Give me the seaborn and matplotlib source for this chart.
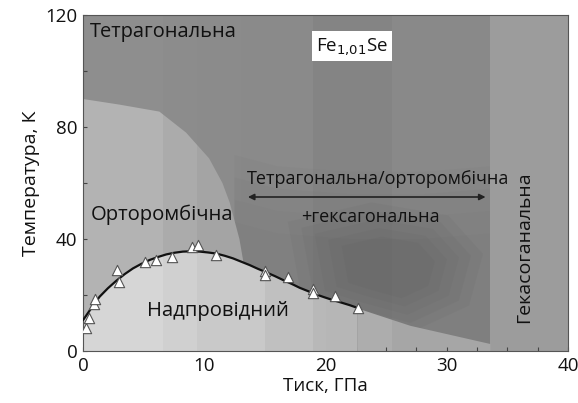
import numpy as np
import pandas as pd
import matplotlib
matplotlib.use("Agg")
import matplotlib.pyplot as plt
from matplotlib.patches import Rectangle, Polygon
import seaborn as sns

# measured Tc points (pressure GPa, temperature K)
p_data = [0.22, 0.5, 0.88, 0.96, 2.83, 2.97, 5.14, 5.99, 7.36, 9.01, 9.45, 10.99,
          15.05, 15.05, 16.9, 18.96, 18.96, 20.77, 22.64]
t_data = [8.3, 11.9, 16.9, 18.6, 28.8, 24.8, 31.7, 32.5, 33.7, 37.1, 37.7, 34.4,
          28.7, 27.3, 26.4, 22.0, 20.6, 19.5, 15.2]

# guide line
curve_p = [0.0, 0.7, 1.37, 2.05, 2.75, 3.45, 4.12, 4.8, 5.49, 6.2, 6.87, 7.55, 8.24,
           8.9, 9.62, 10.3, 10.99, 11.7, 12.36, 13.05, 13.74, 14.4, 15.11, 15.8,
           16.48, 17.2, 17.86, 18.55, 19.23, 19.9, 20.6, 21.3, 21.98, 22.64]
curve_t = [11.0, 15.4, 19.4, 22.4, 25.1, 27.5, 29.5, 31.1, 32.5, 33.6, 34.5, 35.1, 35.5,
           35.6, 35.5, 35.2, 34.8, 34.0, 33.1, 31.9, 30.7, 29.4, 28.1, 26.8,
           25.4, 24.0, 22.6, 21.4, 20.2, 19.2, 18.2, 17.3, 16.4, 15.4]

# phase region outlines
ortho_p = [0.0, 3.0, 6.3, 8.5, 10.4, 11.5, 12.1, 12.9, 13.3, 13.0, 0.0]
ortho_t = [90.0, 88.0, 85.5, 78.0, 68.8, 60.0, 53.0, 40.0, 30.0, 0.0, 0.0]
mixed_p = [12.5, 16.0, 22.0, 28.0, 33.6, 33.6, 12.5]
mixed_t = [70.0, 66.0, 64.0, 64.0, 66.0, 0.0, 0.0]
dark_p = [18.0, 24.0, 29.5, 32.0, 31.0, 27.0, 22.6, 19.0]
dark_t = [44.0, 50.0, 46.0, 34.0, 18.0, 10.0, 15.2, 20.0]
tail_p = [22.64, 27.0, 33.6, 33.6, 22.64]
tail_t = [15.2, 9.0, 2.5, 0.0, 0.0]

# vertical shading bands seen in the background
band_edges = [0.0, 6.6, 9.4, 13.0, 15.0, 19.0, 20.0, 22.64, 25.5, 33.6, 40.0]
band_top = ['#8e8e8e', '#8c8c8c', '#8b8b8b', '#8a8a8a', '#8a8a8a', '#848484', '#848484',
            '#848484', '#898989', '#9c9c9c']
band_ortho = ['#b3b3b3', '#ababab', '#a4a4a4', '#a4a4a4', '#a4a4a4', '#a4a4a4', '#a4a4a4',
              '#a4a4a4', '#a4a4a4', '#a4a4a4']
band_sc = ['#d6d6d6', '#d0d0d0', '#c9c9c9', '#c9c9c9', '#c0c0c0', '#b8b8b8', '#b6b6b6',
           '#b6b6b6', '#b6b6b6', '#b6b6b6']
band_tail = ['#adadad'] * 8 + ['#a6a6a6', '#a6a6a6']

labels_x = [0, 10, 20, 30, 40]
labels_y = [0, 40, 80, 120]

sns.set_theme(style="ticks")
plt.rcParams['font.family'] = ['Open Sans', 'DejaVu Sans']

fig = plt.figure(figsize=(5.78, 4.03), dpi=100)
ax = fig.add_axes([0.1436, 0.129, 0.8391, 0.8338])
ax.set_xlim(0, 40)
ax.set_ylim(0, 120)


def shade(region, colors, z):
    # paint vertical bands clipped to one phase region
    patch = Polygon(region, closed=True, facecolor='none', edgecolor='none')
    ax.add_patch(patch)
    for i, c in enumerate(colors):
        r = Rectangle((band_edges[i], 0), band_edges[i + 1] - band_edges[i], 120,
                      facecolor=c, edgecolor='none', lw=0, zorder=z)
        ax.add_patch(r)
        r.set_clip_path(patch)


def soft(px, py, color, alpha, scales, z):
    # stack shrinking copies of a region to fake a soft gradient
    cx, cy = np.mean(px), np.mean(py)
    for sc in scales:
        pts = [(cx + (x - cx) * sc, cy + (y - cy) * sc) for x, y in zip(px, py)]
        ax.add_patch(Polygon(pts, closed=True, facecolor=color, edgecolor='none',
                             alpha=alpha, zorder=z))


full = [(0, 0), (40, 0), (40, 120), (0, 120)]
shade(full, band_top, 0.1)
# darker mixed-phase zone, fading upward
for top_shift in [0, -8, -16, -24]:
    pts = [(x, y + top_shift if y > 1 else y) for x, y in zip(mixed_p, mixed_t)]
    ax.add_patch(Polygon(pts, closed=True, facecolor='#6e6e6e', edgecolor='none',
                         alpha=0.09, zorder=0.2))
soft(dark_p, dark_t, '#505050', 0.07, [1.15, 1.0, 0.85, 0.7, 0.55], 0.3)
ax.axvspan(33.6, 40, color='#9c9c9c', lw=0, zorder=0.35)
shade(list(zip(ortho_p, ortho_t)), band_ortho, 0.4)
shade(list(zip(tail_p, tail_t)), band_tail, 0.5)
shade(list(zip(curve_p, curve_t)) + [(22.64, 0), (0, 0)], band_sc, 0.6)

sns.lineplot(x=curve_p, y=curve_t, sort=False, color='#111111', lw=1.6, ax=ax, zorder=3)
sns.scatterplot(x=p_data, y=t_data, marker='^', s=55, color='white',
                edgecolor='#555555', linewidth=0.8, ax=ax, zorder=4)

ax.text(0.6, 113.9, 'Тетрагональна', fontsize=14.4, va='center', ha='left', color='#111111')
ax.text(22.2, 108.9, 'Fe$_{1{,}01}$Se', fontsize=13.5, va='center', ha='center',
        color='#111111', bbox=dict(boxstyle='square,pad=0.22', fc='white', ec='none'))
ax.text(24.3, 61.4, 'Тетрагональна/орторомбічна', fontsize=13, va='center', ha='center',
        color='#111111')
ax.annotate('', xy=(13.6, 55.0), xytext=(33.2, 55.0),
            arrowprops=dict(arrowstyle='<|-|>', color='#222222', lw=1.2,
                            mutation_scale=9, shrinkA=0, shrinkB=0))
ax.text(23.7, 47.9, '+гексагональна', fontsize=13, va='center', ha='center', color='#111111')
ax.text(0.6, 48.6, 'Орторомбічна', fontsize=14.6, va='center', ha='left', color='#111111')
ax.text(11.1, 14.3, 'Надпровідний', fontsize=14.6, va='center', ha='center', color='#111111')
ax.text(36.4, 37.1, 'Гекасоганальна', fontsize=14, va='center', ha='center',
        rotation=90, color='#111111')

ax.set_xticks(labels_x)
ax.set_yticks(labels_y)
ax.set_xticks(np.arange(0, 40.1, 2.5), minor=True)
ax.set_yticks(np.arange(0, 120.1, 20), minor=True)
ax.tick_params(which='both', direction='in', length=3, width=0.8, color='#444444',
               labelsize=13.5, labelcolor='#111111', pad=4)
for s in ax.spines.values():
    s.set_color('#555555')
    s.set_linewidth(0.8)
ax.set_xlabel('Тиск, ГПа', fontsize=13.5, color='#111111', labelpad=2)
ax.set_ylabel('Температура, К', fontsize=14, color='#111111', labelpad=4)

fig.savefig('out.png', dpi=100)
